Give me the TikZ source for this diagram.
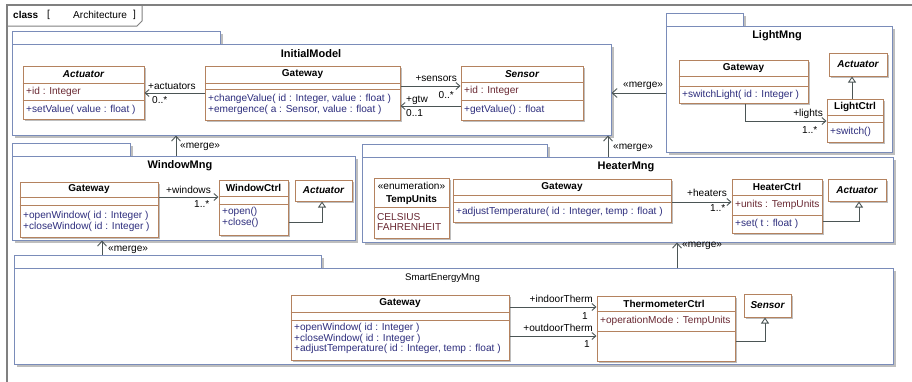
\documentclass[tikz,border=0pt]{standalone}
\usepackage{fontspec}
\setmainfont{Liberation Sans}
\usetikzlibrary{arrows.meta,fit,shadows}

\definecolor{pkgline}{RGB}{122,140,185}
\definecolor{clsline}{RGB}{180,130,95}
\definecolor{conline}{RGB}{75,85,85}
\definecolor{attrcol}{RGB}{105,40,50}
\definecolor{opcol}{RGB}{45,45,125}
\definecolor{framecol}{RGB}{128,128,128}
\definecolor{shadowcol}{RGB}{190,190,190}

\tikzset{
  txt/.style={font=\fontsize{10.1}{10.6}\selectfont, inner sep=0pt},
  pkg/.style={draw=pkgline, line width=1pt, fill=white, inner sep=0pt,
    drop shadow={shadow xshift=2.5pt, shadow yshift=-2.5pt, fill=shadowcol, opacity=1}},
  cls/.style={draw=clsline, line width=1pt, fill=white, inner sep=0pt,
    drop shadow={shadow xshift=2pt, shadow yshift=-2pt, fill=shadowcol, opacity=1}},
  sepline/.style={draw=clsline, line width=0.8pt},
  ctitle/.style={txt, font=\fontsize{10}{10.6}\selectfont\bfseries},
  cabstract/.style={txt, font=\fontsize{10}{10.6}\selectfont\bfseries\itshape},
  attr/.style={txt, text=attrcol, anchor=west, align=left},
  oper/.style={txt, text=opcol, anchor=west, align=left},
  ptitle/.style={font=\fontsize{11}{12}\selectfont\bfseries, inner sep=0pt},
  lbl/.style={txt},
  assoc/.style={draw=conline, line width=0.9pt, -{Straight Barb[length=4pt,width=7pt]}},
  mergearrow/.style={draw=conline, line width=0.9pt, -{Straight Barb[length=5pt,width=9pt]}},
  general/.style={draw=conline, line width=0.9pt, -{Triangle[open, length=6pt, width=8pt, fill=white]}},
}

\begin{document}
\begin{tikzpicture}[x=1pt, y=-1pt]
\useasboundingbox (0,0) rectangle (912,381);
\fill[white] (0,0) rectangle (912,381);
\clip (0,0) rectangle (912,381);

% diagram frame and its header
\draw[framecol, line width=1.3pt] (7,390) -- (7,5) -- (920,5);
\draw[framecol, line width=1pt] (7,26) -- (137,26) -- (142,21) -- (142,5);
\node[txt, font=\fontsize{10}{10.6}\selectfont\bfseries, anchor=west] (hdr-kind) at (13,15) {class};
\node[txt, anchor=west] (hdr-open) at (47,15) {[};
\node[txt, anchor=west] (hdr-name) at (73,15) {Architecture};
\node[txt, anchor=west] (hdr-close) at (133,15) {]};

% ---------------- InitialModel ----------------
\node[pkg, fit={(12,31) (220,44)}] (im-tab) {};
\node[pkg, fit={(12,44) (611,135)}] (im) {};
\node[ptitle] (im-title) at (311,54) {InitialModel};

\node[cls, fit={(23,66) (144,119)}] (im-act) {};
\draw[sepline] (im-act.west |- 0,83) -- (im-act.east |- 0,83);
\draw[sepline] (im-act.west |- 0,100) -- (im-act.east |- 0,100);
\node[cabstract] (im-act-n) at (83.5,74.5) {Actuator};
\node[attr] (im-act-a) at (26,91.5) {+id : Integer};
\node[oper] (im-act-o) at (26,109.5) {+setValue( value : float )};

\node[cls, fit={(205,66) (400,120)}] (im-gw) {};
\draw[sepline] (im-gw.west |- 0,83) -- (im-gw.east |- 0,83);
\draw[sepline] (im-gw.west |- 0,89) -- (im-gw.east |- 0,89);
\node[ctitle] (im-gw-n) at (302.5,74.5) {Gateway};
\node[oper] (im-gw-o) at (208,104.5) {+changeValue( id : Integer, value : float )\\+emergence( a : Sensor, value : float )};

\node[cls, fit={(461,66) (583,120)}] (im-sen) {};
\draw[sepline] (im-sen.west |- 0,82) -- (im-sen.east |- 0,82);
\draw[sepline] (im-sen.west |- 0,100) -- (im-sen.east |- 0,100);
\node[cabstract] (im-sen-n) at (522,74) {Sensor};
\node[attr] (im-sen-a) at (464,91) {+id : Integer};
\node[oper] (im-sen-o) at (464,110) {+getValue() : float};

\draw[assoc] (im-gw.west |- 0,93) -- (im-act.east |- 0,93);
\node[lbl, anchor=west] (l-act) at (148,86) {+actuators};
\node[lbl, anchor=west] (m-act) at (152,100) {0..*};
\draw[assoc] (im-gw.east |- 0,86) -- (im-sen.west |- 0,86);
\node[lbl, anchor=east] (l-sen) at (457,79) {+sensors};
\node[lbl, anchor=east] (m-sen) at (454,95) {0..*};
\draw[assoc] (im-sen.west |- 0,106) -- (im-gw.east |- 0,106);
\node[lbl, anchor=west] (l-gtw) at (406,100) {+gtw};
\node[lbl, anchor=west] (m-gtw) at (406,113) {0..1};

% ---------------- LightMng ----------------
\node[pkg, fit={(666,13) (743,26)}] (lm-tab) {};
\node[pkg, fit={(666,26) (892,152)}] (lm) {};
\node[ptitle] (lm-title) at (777,36) {LightMng};

\node[cls, fit={(679,60) (808,103)}] (lm-gw) {};
\draw[sepline] (lm-gw.west |- 0,76) -- (lm-gw.east |- 0,76);
\draw[sepline] (lm-gw.west |- 0,86) -- (lm-gw.east |- 0,86);
\node[ctitle] (lm-gw-n) at (743.5,68) {Gateway};
\node[oper] (lm-gw-o) at (682,94.5) {+switchLight( id : Integer )};

\node[cls, fit={(829,53) (887,76)}] (lm-act) {};
\node[cabstract] (lm-act-n) at (858,64.5) {Actuator};

\node[cls, fit={(827,99) (883,142)}] (lm-lc) {};
\draw[sepline] (lm-lc.west |- 0,115) -- (lm-lc.east |- 0,115);
\draw[sepline] (lm-lc.west |- 0,122) -- (lm-lc.east |- 0,122);
\node[ctitle] (lm-lc-n) at (855,107) {LightCtrl};
\node[oper] (lm-lc-o) at (830,132) {+switch()};

\draw[general] (lm-lc.north -| 852,0) -- (lm-act.south -| 852,0);
\draw[assoc] (lm-gw.south -| 745,0) |- (lm-lc.west |- 0,121);
\node[lbl, anchor=east] (l-lights) at (823,114) {+lights};
\node[lbl, anchor=west] (m-lights) at (802,130) {1..*};

\draw[mergearrow] (lm.west |- 0,93) -- (im.east |- 0,93);
\node[lbl, anchor=west] (mg-lm) at (623,86) {«merge»};

% ---------------- WindowMng ----------------
\node[pkg, fit={(12,143) (130,156)}] (wm-tab) {};
\node[pkg, fit={(12,156) (355,240)}] (wm) {};
\node[ptitle] (wm-title) at (180,166) {WindowMng};

\node[cls, fit={(20,182) (158,237)}] (wm-gw) {};
\draw[sepline] (wm-gw.west |- 0,197) -- (wm-gw.east |- 0,197);
\draw[sepline] (wm-gw.west |- 0,205) -- (wm-gw.east |- 0,205);
\node[ctitle] (wm-gw-n) at (89,189.5) {Gateway};
\node[oper] (wm-gw-o) at (23,221.5) {+openWindow( id : Integer )\\+closeWindow( id : Integer )};

\node[cls, fit={(219,180) (288,235)}] (wm-wc) {};
\draw[sepline] (wm-wc.west |- 0,196) -- (wm-wc.east |- 0,196);
\draw[sepline] (wm-wc.west |- 0,204) -- (wm-wc.east |- 0,204);
\node[ctitle] (wm-wc-n) at (253.5,188) {WindowCtrl};
\node[oper] (wm-wc-o) at (222,217.5) {+open()\\+close()};

\node[cls, fit={(295,180) (352,201)}] (wm-act) {};
\node[cabstract] (wm-act-n) at (323.5,190.5) {Actuator};

\draw[general] (wm-wc.east |- 0,222) -| (wm-act.south -| 322,0);
\draw[assoc] (wm-gw.east |- 0,197) -- (wm-wc.west |- 0,197);
\node[lbl, anchor=west] (l-win) at (166,190) {+windows};
\node[lbl, anchor=west] (m-win) at (194,204) {1..*};

\draw[mergearrow] (wm.north -| 176,0) -- (im.south -| 176,0);
\node[lbl, anchor=west] (mg-wm) at (180,147) {«merge»};

% ---------------- HeaterMng ----------------
\node[pkg, fit={(362,144) (547,157)}] (hm-tab) {};
\node[pkg, fit={(362,157) (893,242)}] (hm) {};
\node[ptitle] (hm-title) at (626,167) {HeaterMng};

\node[cls, fit={(374,178) (449,238)}] (hm-tu) {};
\draw[sepline] (hm-tu.west |- 0,207) -- (hm-tu.east |- 0,207);
\node[txt] (hm-tu-s) at (411.5,186) {«enumeration»};
\node[ctitle] (hm-tu-n) at (411.5,199.5) {TempUnits};
\node[attr] (hm-tu-l) at (377,222) {CELSIUS\\FAHRENHEIT};

\node[cls, fit={(453,179) (671,222)}] (hm-gw) {};
\draw[sepline] (hm-gw.west |- 0,195) -- (hm-gw.east |- 0,195);
\draw[sepline] (hm-gw.west |- 0,202) -- (hm-gw.east |- 0,202);
\node[ctitle] (hm-gw-n) at (562,187) {Gateway};
\node[oper] (hm-gw-o) at (456,212) {+adjustTemperature( id : Integer, temp : float )};

\node[cls, fit={(732,179) (822,233)}] (hm-hc) {};
\draw[sepline] (hm-hc.west |- 0,195) -- (hm-hc.east |- 0,195);
\draw[sepline] (hm-hc.west |- 0,215) -- (hm-hc.east |- 0,215);
\node[ctitle] (hm-hc-n) at (777,187) {HeaterCtrl};
\node[attr] (hm-hc-a) at (735,205) {+units : TempUnits};
\node[oper] (hm-hc-o) at (735,224) {+set( t : float )};

\node[cls, fit={(828,179) (886,201)}] (hm-act) {};
\node[cabstract] (hm-act-n) at (857,190) {Actuator};

\draw[general] (hm-hc.east |- 0,221) -| (hm-act.south -| 859,0);
\draw[assoc] (hm-gw.east |- 0,202) -- (hm-hc.west |- 0,202);
\node[lbl, anchor=east] (l-heat) at (727,193) {+heaters};
\node[lbl, anchor=west] (m-heat) at (710,208) {1..*};

\draw[mergearrow] (hm.north -| 608,0) -- (im.south -| 608,0);
\node[lbl, anchor=west] (mg-hm) at (613,148) {«merge»};

% ---------------- SmartEnergyMng ----------------
\node[pkg, fit={(14,255) (321,268)}] (se-tab) {};
\node[pkg, fit={(14,268) (893,364)}] (se) {};
\node[txt, font=\fontsize{9.6}{11}\selectfont] (se-title) at (442.5,278) {SmartEnergyMng};

\node[cls, fit={(291,295) (509,360)}] (se-gw) {};
\draw[sepline] (se-gw.west |- 0,312) -- (se-gw.east |- 0,312);
\draw[sepline] (se-gw.west |- 0,320) -- (se-gw.east |- 0,320);
\node[ctitle] (se-gw-n) at (400,303.5) {Gateway};
\node[oper] (se-gw-o) at (294,338.5) {+openWindow( id : Integer )\\+closeWindow( id : Integer )\\+adjustTemperature( id : Integer, temp : float )};

\node[cls, fit={(597,296) (735,361)}] (se-tc) {};
\draw[sepline] (se-tc.west |- 0,311) -- (se-tc.east |- 0,311);
\draw[sepline] (se-tc.west |- 0,331) -- (se-tc.east |- 0,331);
\node[ctitle] (se-tc-n) at (664,303.5) {ThermometerCtrl};
\node[attr] (se-tc-a) at (600,321) {+operationMode : TempUnits};

\node[cls, fit={(744,294) (791,317)}] (se-sen) {};
\node[cabstract] (se-sen-n) at (767.5,305.5) {Sensor};

\draw[general] (se-tc.east |- 0,341) -| (se-sen.south -| 765,0);
\draw[assoc] (se-gw.east |- 0,307) -- (se-tc.west |- 0,307);
\node[lbl, anchor=east] (l-in) at (593,299) {+indoorTherm};
\node[lbl, anchor=east] (m-in) at (588,316) {1};
\draw[assoc] (se-gw.east |- 0,336) -- (se-tc.west |- 0,336);
\node[lbl, anchor=east] (l-out) at (593,328) {+outdoorTherm};
\node[lbl, anchor=east] (m-out) at (590,344) {1};

\draw[mergearrow] (se-tab.north -| 102,0) -- (wm.south -| 102,0);
\node[lbl, anchor=west] (mg-se1) at (108,250) {«merge»};
\draw[mergearrow] (se.north -| 677,0) -- (hm.south -| 677,0);
\node[lbl, anchor=west] (mg-se2) at (682,246) {«merge»};
\end{tikzpicture}
\end{document}
